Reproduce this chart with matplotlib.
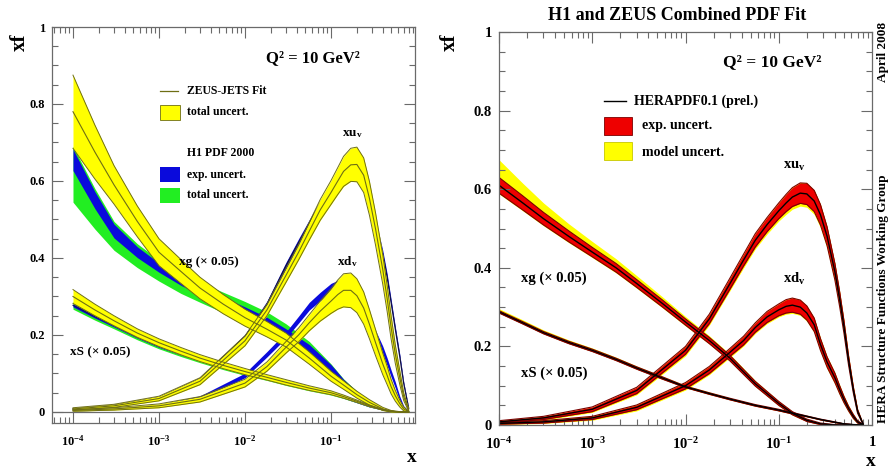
import numpy as np
import matplotlib
matplotlib.use('Agg')
import matplotlib.pyplot as plt
from matplotlib.ticker import LogLocator, MultipleLocator, FixedLocator, FixedFormatter, NullFormatter
from matplotlib.patches import Rectangle

plt.rcParams['font.family'] = ['Liberation Serif', 'DejaVu Serif']
plt.rcParams['font.weight'] = 'bold'
plt.rcParams['mathtext.fontset'] = 'custom'
plt.rcParams['mathtext.rm'] = 'Liberation Serif:bold'
plt.rcParams['mathtext.it'] = 'Liberation Serif:bold'
plt.rcParams['mathtext.bf'] = 'Liberation Serif:bold'

x_sea = [1e-4, 1.8e-4, 3e-4, 5.6e-4, 1e-3, 1.8e-3, 3e-3, 5.6e-3, 1e-2, 0.018, 0.03, 0.056,
         0.1, 0.14, 0.2, 0.28, 0.4, 0.5, 0.63, 0.8]
# denser x points for the valence curves
x_val = [1e-4, 3e-4, 1e-3, 3e-3, 1e-2, 0.018, 0.03, 0.042, 0.056, 0.075, 0.1, 0.12, 0.14,
         0.17, 0.2, 0.24, 0.28, 0.33, 0.4, 0.45, 0.5, 0.56, 0.63, 0.7, 0.8]

# ---- left panel: ZEUS-JETS fit vs H1 PDF 2000 ----
zeus_xuv = [0.008, 0.016, 0.035, 0.08, 0.185, 0.265, 0.355, 0.415, 0.47, 0.525, 0.57, 0.6, 0.625,
            0.642, 0.643, 0.615, 0.555, 0.475, 0.37, 0.295, 0.22, 0.15, 0.09, 0.04, 0.005]
zeus_xuv_err = [0.003, 0.004, 0.006, 0.009, 0.013, 0.015, 0.018, 0.02, 0.023, 0.027, 0.031, 0.035, 0.039,
                0.043, 0.045, 0.045, 0.044, 0.042, 0.038, 0.034, 0.03, 0.024, 0.018, 0.01, 0.003]
h1_xuv = [0.008, 0.017, 0.037, 0.085, 0.195, 0.28, 0.38, 0.44, 0.49, 0.54, 0.58, 0.6, 0.612,
          0.62, 0.615, 0.59, 0.55, 0.49, 0.41, 0.35, 0.285, 0.215, 0.145, 0.075, 0.01]
h1_xuv_err = [0.002, 0.003, 0.004, 0.005, 0.007, 0.008, 0.009, 0.01, 0.01, 0.01, 0.01, 0.01, 0.01,
              0.01, 0.01, 0.01, 0.01, 0.01, 0.01, 0.009, 0.008, 0.007, 0.006, 0.004, 0.001]

zeus_xdv = [0.004, 0.008, 0.016, 0.033, 0.075, 0.118, 0.168, 0.2, 0.232, 0.262, 0.288, 0.305, 0.316,
            0.316, 0.302, 0.27, 0.228, 0.18, 0.125, 0.095, 0.066, 0.042, 0.022, 0.008, 0.001]
zeus_xdv_err = [0.002, 0.003, 0.005, 0.007, 0.01, 0.012, 0.015, 0.018, 0.021, 0.026, 0.032, 0.038, 0.043,
                0.045, 0.044, 0.042, 0.038, 0.034, 0.028, 0.024, 0.019, 0.014, 0.009, 0.005, 0.001]
h1_xdv = [0.004, 0.008, 0.017, 0.038, 0.095, 0.15, 0.2, 0.24, 0.275, 0.3, 0.322, 0.33, 0.334,
          0.325, 0.305, 0.27, 0.235, 0.2, 0.16, 0.13, 0.1, 0.07, 0.035, 0.012, 0.002]
h1_xdv_err = [0.002, 0.002, 0.003, 0.004, 0.006, 0.007, 0.008, 0.009, 0.01, 0.011, 0.012, 0.012, 0.012,
              0.012, 0.012, 0.012, 0.012, 0.012, 0.011, 0.01, 0.009, 0.008, 0.006, 0.004, 0.001]

zeus_xg = [0.78, 0.675, 0.59, 0.495, 0.415, 0.365, 0.322, 0.28, 0.245, 0.215, 0.187, 0.14,
           0.093, 0.07, 0.045, 0.025, 0.008, 0.002, 0.0, 0.0]
zeus_xg_err = [0.095, 0.07, 0.05, 0.04, 0.035, 0.031, 0.028, 0.025, 0.022, 0.02, 0.018, 0.016,
               0.013, 0.011, 0.009, 0.007, 0.004, 0.002, 0.001, 0.0]
h1_xg = [0.655, 0.55, 0.47, 0.415, 0.375, 0.34, 0.315, 0.287, 0.262, 0.235, 0.205, 0.165,
         0.115, 0.08, 0.05, 0.025, 0.008, 0.002, 0.0, 0.0]
h1_xg_exp = [0.028, 0.022, 0.018, 0.014, 0.012, 0.011, 0.011, 0.011, 0.011, 0.011, 0.011, 0.01,
             0.008, 0.005, 0.003, 0.002, 0.001, 0.0, 0.0, 0.0]
h1_xg_tot_lo = [0.11, 0.075, 0.05, 0.04, 0.035, 0.032, 0.03, 0.029, 0.028, 0.028, 0.026, 0.02,
                0.012, 0.007, 0.004, 0.002, 0.001, 0.0, 0.0, 0.0]
h1_xg_tot_hi = [0.035, 0.03, 0.025, 0.022, 0.02, 0.021, 0.022, 0.024, 0.025, 0.025, 0.024, 0.018,
                0.01, 0.006, 0.004, 0.002, 0.001, 0.0, 0.0, 0.0]

zeus_xs = [0.30, 0.265, 0.237, 0.205, 0.18, 0.158, 0.14, 0.121, 0.105, 0.09, 0.077, 0.062,
           0.05, 0.04, 0.028, 0.016, 0.006, 0.002, 0.0, 0.0]
zeus_xs_err = [0.018, 0.015, 0.013, 0.011, 0.01, 0.0095, 0.009, 0.0085, 0.008, 0.007, 0.007, 0.006,
               0.005, 0.004, 0.003, 0.002, 0.001, 0.001, 0.0, 0.0]
h1_xs = [0.277, 0.248, 0.225, 0.196, 0.172, 0.152, 0.136, 0.118, 0.103, 0.089, 0.076, 0.061,
         0.049, 0.039, 0.027, 0.015, 0.006, 0.002, 0.0, 0.0]
h1_xs_exp = [0.004, 0.004, 0.004, 0.004, 0.004, 0.004, 0.004, 0.004, 0.004, 0.004, 0.004, 0.004,
             0.003, 0.003, 0.003, 0.002, 0.001, 0.001, 0.0, 0.0]
h1_xs_tot = [0.01, 0.0095, 0.009, 0.0085, 0.008, 0.008, 0.008, 0.008, 0.008, 0.007, 0.007, 0.006,
             0.005, 0.004, 0.003, 0.002, 0.001, 0.001, 0.0, 0.0]

# ---- right panel: HERAPDF0.1 ----
her_xuv = [0.008, 0.018, 0.04, 0.088, 0.19, 0.27, 0.36, 0.42, 0.47, 0.51, 0.545, 0.565, 0.58,
           0.59, 0.588, 0.57, 0.535, 0.48, 0.39, 0.32, 0.25, 0.165, 0.09, 0.035, 0.003]
her_xuv_exp = [0.003, 0.004, 0.006, 0.008, 0.01, 0.012, 0.014, 0.015, 0.017, 0.018, 0.02, 0.022, 0.024,
               0.026, 0.027, 0.027, 0.026, 0.024, 0.021, 0.019, 0.016, 0.012, 0.008, 0.005, 0.001]
her_xuv_mod_lo = [0.004, 0.006, 0.008, 0.011, 0.014, 0.016, 0.018, 0.02, 0.022, 0.024, 0.026, 0.029, 0.031,
                  0.033, 0.034, 0.034, 0.033, 0.031, 0.028, 0.025, 0.021, 0.016, 0.011, 0.007, 0.002]
her_xuv_mod_hi = [0.003, 0.004, 0.006, 0.008, 0.011, 0.013, 0.015, 0.016, 0.018, 0.019, 0.021, 0.023, 0.025,
                  0.027, 0.028, 0.028, 0.027, 0.025, 0.022, 0.02, 0.017, 0.013, 0.009, 0.006, 0.001]

her_xdv = [0.004, 0.008, 0.018, 0.045, 0.1, 0.14, 0.185, 0.215, 0.248, 0.275, 0.293, 0.302, 0.305,
           0.3, 0.285, 0.255, 0.205, 0.16, 0.12, 0.09, 0.065, 0.042, 0.022, 0.008, 0.001]
her_xdv_exp = [0.002, 0.003, 0.004, 0.006, 0.008, 0.009, 0.01, 0.011, 0.012, 0.014, 0.015, 0.017, 0.018,
               0.018, 0.018, 0.017, 0.015, 0.013, 0.012, 0.01, 0.008, 0.006, 0.005, 0.003, 0.001]
her_xdv_mod_lo = [0.003, 0.004, 0.006, 0.009, 0.011, 0.012, 0.013, 0.014, 0.015, 0.017, 0.018, 0.02, 0.021,
                  0.021, 0.021, 0.02, 0.019, 0.017, 0.016, 0.014, 0.011, 0.009, 0.007, 0.004, 0.001]
her_xdv_mod_hi = [0.002, 0.003, 0.005, 0.007, 0.009, 0.01, 0.011, 0.012, 0.013, 0.015, 0.016, 0.018, 0.019,
                  0.019, 0.019, 0.018, 0.017, 0.015, 0.014, 0.012, 0.01, 0.008, 0.006, 0.004, 0.001]

her_xg = [0.61, 0.565, 0.525, 0.48, 0.44, 0.4, 0.36, 0.31, 0.262, 0.215, 0.17, 0.105,
          0.055, 0.03, 0.012, 0.003, 0.0, 0.0, 0.0, 0.0]
her_xg_exp = [0.02, 0.018, 0.016, 0.014, 0.012, 0.011, 0.01, 0.009, 0.008, 0.008, 0.007, 0.006,
              0.005, 0.004, 0.003, 0.002, 0.001, 0.0, 0.0, 0.0]
her_xg_mod_lo = [0.022, 0.02, 0.018, 0.016, 0.014, 0.013, 0.012, 0.011, 0.01, 0.009, 0.008, 0.007,
                 0.006, 0.005, 0.003, 0.002, 0.001, 0.0, 0.0, 0.0]
her_xg_mod_hi = [0.065, 0.05, 0.04, 0.032, 0.027, 0.023, 0.02, 0.017, 0.014, 0.012, 0.01, 0.008,
                 0.006, 0.005, 0.003, 0.002, 0.001, 0.0, 0.0, 0.0]

her_xs = [0.288, 0.26, 0.235, 0.21, 0.19, 0.167, 0.145, 0.12, 0.097, 0.08, 0.066, 0.05,
          0.038, 0.03, 0.022, 0.014, 0.007, 0.003, 0.001, 0.0]
her_xs_exp = [0.003, 0.003, 0.003, 0.003, 0.003, 0.003, 0.003, 0.003, 0.002, 0.002, 0.002, 0.002,
              0.002, 0.002, 0.001, 0.001, 0.001, 0.0, 0.0, 0.0]
her_xs_mod_lo = [0.003, 0.003, 0.003, 0.003, 0.003, 0.003, 0.003, 0.003, 0.002, 0.002, 0.002, 0.002,
                 0.002, 0.002, 0.001, 0.001, 0.001, 0.0, 0.0, 0.0]
her_xs_mod_hi = [0.008, 0.0075, 0.007, 0.0065, 0.006, 0.0055, 0.005, 0.0045, 0.004, 0.004, 0.003, 0.003,
                 0.003, 0.002, 0.002, 0.001, 0.001, 0.0, 0.0, 0.0]

YELLOW = '#ffff00'
OLIVE = '#6e6e14'
BLUE = '#0a0adc'
GREEN = '#22ee22'
RED = '#ee0000'
DARKRED = '#7a0000'
FRAME = '#6a6a6a'

W, H = 888, 474


def px(x, y):
    return x / W, 1 - y / H


def band(ax, x, c, lo, hi, color, edge=None, lw=0.7, z=1):
    c = np.asarray(c)
    ax.fill_between(x, c - np.asarray(lo), c + np.asarray(hi), color=color, lw=0, zorder=z)
    if edge is not None:
        ax.plot(x, c - np.asarray(lo), color=edge, lw=lw, zorder=z + 0.1)
        ax.plot(x, c + np.asarray(hi), color=edge, lw=lw, zorder=z + 0.1)


def style_axes(ax, ylim, xlim, xticks, xlabels, fs):
    ax.set_xscale('log')
    ax.set_xlim(*xlim)
    ax.set_ylim(*ylim)
    for s in ax.spines.values():
        s.set_color(FRAME)
        s.set_linewidth(0.9)
    ax.xaxis.set_major_locator(FixedLocator(xticks))
    ax.xaxis.set_major_formatter(FixedFormatter(xlabels))
    ax.xaxis.set_minor_locator(LogLocator(base=10, subs=np.arange(2, 10)))
    ax.xaxis.set_minor_formatter(NullFormatter())
    ax.yaxis.set_major_locator(FixedLocator([0, 0.2, 0.4, 0.6, 0.8, 1.0]))
    ax.yaxis.set_major_formatter(FixedFormatter(['0', '0.2', '0.4', '0.6', '0.8', '1']))
    ax.yaxis.set_minor_locator(MultipleLocator(0.05))
    ax.tick_params(which='both', direction='in', top=True, right=True, color=FRAME, width=0.8)
    ax.tick_params(which='major', length=8, labelsize=fs, pad=5)
    ax.tick_params(which='minor', length=4)
    ax.tick_params(axis='x', which='major', pad=8)


fig = plt.figure(figsize=(W / 100, H / 100), dpi=100)

# ================= left panel =================
axl = fig.add_axes([52 / W, 1 - 423 / H, 363 / W, 396 / H])
axl.axhline(0, color=FRAME, lw=0.9, zorder=0.5)

# H1 PDF 2000 bands
band(axl, x_sea, h1_xg, h1_xg_tot_lo, h1_xg_tot_hi, GREEN, z=1)
band(axl, x_sea, h1_xg, h1_xg_exp, h1_xg_exp, BLUE, z=1.2)
band(axl, x_sea, h1_xs, h1_xs_tot, h1_xs_tot, GREEN, z=1)
band(axl, x_sea, h1_xs, h1_xs_exp, h1_xs_exp, BLUE, z=1.2)
band(axl, x_val, h1_xuv, h1_xuv_err, h1_xuv_err, BLUE, z=1.2)
band(axl, x_val, h1_xdv, h1_xdv_err, h1_xdv_err, BLUE, z=1.2)
axl.plot(x_sea, h1_xs, color='#101060', lw=0.8, zorder=1.3)
axl.plot(x_val, h1_xuv, color='#101040', lw=0.9, zorder=1.3)

# ZEUS-JETS bands
for x, c, e in ((x_sea, zeus_xg, zeus_xg_err), (x_sea, zeus_xs, zeus_xs_err),
                (x_val, zeus_xuv, zeus_xuv_err), (x_val, zeus_xdv, zeus_xdv_err)):
    band(axl, x, c, e, e, YELLOW, edge=OLIVE, z=2)
    axl.plot(x, c, color=OLIVE, lw=0.8, zorder=2.2)

style_axes(axl, (-0.0286, 1.0), (10 ** -4.244, 10 ** -0.023),
           [1e-4, 1e-3, 1e-2, 1e-1],
           [r'$10^{-4}$', r'$10^{-3}$', r'$10^{-2}$', r'$10^{-1}$'], 9)

# legend of left panel
fig.text(*px(313, 58), 'Q² = 10 GeV²', fontsize=12, ha='center', va='center')
fig.add_artist(plt.Line2D([160 / W, 178 / W], [1 - 91 / H, 1 - 91 / H], color=OLIVE, lw=0.9))
fig.text(*px(187, 91), 'ZEUS-JETS Fit', fontsize=8.5, va='center')
fig.add_artist(Rectangle(px(160, 120), 20 / W, 15 / H, facecolor=YELLOW, edgecolor=OLIVE, lw=0.6))
fig.text(*px(187, 112), 'total uncert.', fontsize=8.5, va='center')
fig.text(*px(187, 153), 'H1 PDF 2000', fontsize=8.5, va='center')
fig.add_artist(Rectangle(px(160, 182), 20 / W, 15 / H, facecolor=BLUE, edgecolor='none'))
fig.text(*px(187, 175), 'exp. uncert.', fontsize=8.5, va='center')
fig.add_artist(Rectangle(px(160, 203), 20 / W, 15 / H, facecolor=GREEN, edgecolor='none'))
fig.text(*px(187, 195), 'total uncert.', fontsize=8.5, va='center')

fig.text(*px(352, 134), r'xu$_{\mathrm{v}}$', fontsize=9.5, ha='center', va='center')
fig.text(*px(347, 262), r'xd$_{\mathrm{v}}$', fontsize=9.5, ha='center', va='center')
fig.text(*px(209, 262), 'xg (× 0.05)', fontsize=9.5, ha='center', va='center')
fig.text(*px(100, 352), 'xS (× 0.05)', fontsize=9.5, ha='center', va='center')
fig.text(*px(20, 42), 'xf', fontsize=15, rotation=90, ha='center', va='center')
fig.text(*px(412, 457), 'x', fontsize=14, ha='center', va='center')

# ================= right panel =================
axr = fig.add_axes([499 / W, 1 - 425 / H, 373 / W, 393 / H])
for x, c, lo, hi, ee in ((x_sea, her_xg, her_xg_mod_lo, her_xg_mod_hi, her_xg_exp),
                         (x_sea, her_xs, her_xs_mod_lo, her_xs_mod_hi, her_xs_exp),
                         (x_val, her_xuv, her_xuv_mod_lo, her_xuv_mod_hi, her_xuv_exp),
                         (x_val, her_xdv, her_xdv_mod_lo, her_xdv_mod_hi, her_xdv_exp)):
    band(axr, x, c, lo, hi, YELLOW, z=1)
    band(axr, x, c, ee, ee, RED, edge=DARKRED, lw=0.8, z=1.5)
    axr.plot(x, c, color='black', lw=1.0, zorder=2)

style_axes(axr, (0, 1.0), (1e-4, 1.0),
           [1e-4, 1e-3, 1e-2, 1e-1, 1.0],
           [r'$10^{-4}$', r'$10^{-3}$', r'$10^{-2}$', r'$10^{-1}$', '1'], 10.5)

fig.text(*px(677, 15), 'H1 and ZEUS Combined PDF Fit', fontsize=13, ha='center', va='center')
fig.text(*px(772, 62), 'Q² = 10 GeV²', fontsize=12.5, ha='center', va='center')
fig.add_artist(plt.Line2D([604 / W, 626 / W], [1 - 101 / H, 1 - 101 / H], color='black', lw=1.0))
fig.text(*px(634, 101), 'HERAPDF0.1 (prel.)', fontsize=10, va='center')
fig.add_artist(Rectangle(px(604, 135), 28 / W, 18 / H, facecolor=RED, edgecolor=DARKRED, lw=0.6))
fig.text(*px(642, 126), 'exp. uncert.', fontsize=10, va='center')
fig.add_artist(Rectangle(px(604, 160), 28 / W, 18 / H, facecolor=YELLOW, edgecolor='#c8c800', lw=0.6))
fig.text(*px(642, 152), 'model uncert.', fontsize=10, va='center')

fig.text(*px(794, 166), r'xu$_{\mathrm{v}}$', fontsize=10.5, ha='center', va='center')
fig.text(*px(794, 279), r'xd$_{\mathrm{v}}$', fontsize=10.5, ha='center', va='center')
fig.text(*px(554, 278), 'xg (× 0.05)', fontsize=10.5, ha='center', va='center')
fig.text(*px(554, 373), 'xS (× 0.05)', fontsize=10.5, ha='center', va='center')
fig.text(*px(450, 42), 'xf', fontsize=15, rotation=90, ha='center', va='center')
fig.text(*px(871, 462), 'x', fontsize=14, ha='center', va='center')

fig.text(*px(883, 423), 'HERA Structure Functions Working Group', fontsize=9.5,
         rotation=90, ha='center', va='bottom')
fig.text(*px(883, 22), 'April 2008', fontsize=9.5, rotation=90, ha='center', va='top')

fig.savefig('out.png', dpi=100)
